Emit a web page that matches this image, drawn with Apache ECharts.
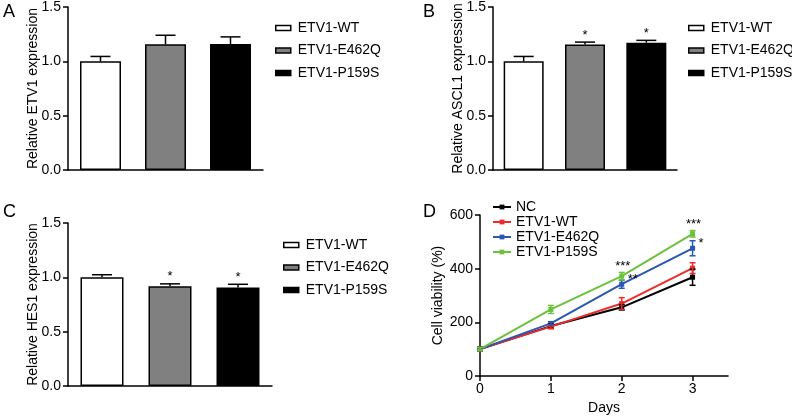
<!DOCTYPE html>
<html><head><meta charset="utf-8">
<script src="https://cdn.jsdelivr.net/npm/echarts@6/dist/echarts.min.js"></script>
<style>html,body{margin:0;padding:0;background:#fff}#c{width:792px;height:416px}</style>
</head><body><div id="c"></div>
<script>
// ---- data: bar panels ----
const groups = ['ETV1-WT', 'ETV1-E462Q', 'ETV1-P159S'];
const groupColors = ['#ffffff', '#808080', '#000000'];
const etv1Mean = [1.00, 1.157, 1.16];
const etv1Err = [0.045, 0.083, 0.065];
const etv1Sig = ['', '', ''];
const ascl1Mean = [1.00, 1.155, 1.172];
const ascl1Err = [0.045, 0.022, 0.021];
const ascl1Sig = ['', '*', '*'];
const hes1Mean = [1.00, 0.918, 0.906];
const hes1Err = [0.024, 0.022, 0.03];
const hes1Sig = ['', '*', '*'];

// ---- data: cell viability ----
const days = [0, 1, 2, 3];
const lineNames = ['NC', 'ETV1-WT', 'ETV1-E462Q', 'ETV1-P159S'];
const lineColors = ['#000000', '#ee2a2a', '#2a56b4', '#6cc23a'];
const ncVal = [100, 186, 256, 368];
const ncErr = [6, 8, 10, 30];
const wtVal = [100, 184, 270, 402];
const wtErr = [6, 8, 22, 20];
const e462qVal = [100, 196, 342, 476];
const e462qErr = [6, 6, 15, 28];
const p159sVal = [100, 248, 372, 530];
const p159sErr = [6, 15, 14, 12];
const e462qSig = ['', '', '**', '*'];
const p159sSig = ['', '', '***', '***'];

const FONT = "'Liberation Sans', Arial, Helvetica, sans-serif";
const chart = echarts.init(document.getElementById('c'), null, {renderer: 'canvas'});

const barPanels = [
  {key: 'A', mean: etv1Mean, err: etv1Err, sig: etv1Sig, yname: 'Relative ETV1 expression',
   grid: {left: 68, top: 5, width: 195, height: 165}, bw: 41,
   legend: {left: 275, top: 21}},
  {key: 'B', mean: ascl1Mean, err: ascl1Err, sig: ascl1Sig, yname: 'Relative ASCL1 expression',
   grid: {left: 493, top: 5, width: 184, height: 165}, bw: 40,
   legend: {left: 688, top: 21}},
  {key: 'C', mean: hes1Mean, err: hes1Err, sig: hes1Sig, yname: 'Relative HES1 expression',
   grid: {left: 68, top: 223, width: 204, height: 163}, bw: 43,
   legend: {left: 283, top: 238}}
];

const grids = [], xAxes = [], yAxes = [], series = [], legends = [];
const axisLineStyle = {color: '#000', width: 1.5};
const labelStyle = {color: '#000', fontSize: 14, fontFamily: FONT};

barPanels.forEach((p, pi) => {
  grids.push(p.grid);
  xAxes.push({type: 'value', gridIndex: pi, min: 0, max: 3,
    axisLine: {show: true, lineStyle: axisLineStyle, onZero: false},
    axisTick: {show: false}, axisLabel: {show: false}, splitLine: {show: false}});
  yAxes.push({type: 'value', gridIndex: pi, min: 0, max: 1.5, interval: 0.5,
    name: p.yname, nameLocation: 'middle', nameGap: 28, nameMoveOverlap: false,
    nameTextStyle: labelStyle,
    axisLine: {show: true, lineStyle: axisLineStyle},
    axisTick: {show: true, length: 5, lineStyle: axisLineStyle},
    axisLabel: Object.assign({margin: 7, formatter: v => v.toFixed(1)}, labelStyle),
    splitLine: {show: false}});
  groups.forEach((g, gi) => {
    series.push({type: 'bar', name: p.key + '|' + g, xAxisIndex: pi, yAxisIndex: pi,
      data: [[gi + 0.5, p.mean[gi]]], barWidth: p.bw, barGap: '-100%',
      itemStyle: {color: groupColors[gi], borderColor: '#000', borderWidth: 1.5},
      emphasis: {disabled: true}});
  });
  series.push({type: 'custom', name: p.key + '|err', xAxisIndex: pi, yAxisIndex: pi, z: 5,
    data: p.mean.map((m, i) => [i + 0.5, m, p.err[i]]),
    renderItem: (params, api) => {
      const x = api.value(0), m = api.value(1), e = api.value(2);
      const a = api.coord([x, m]), b = api.coord([x, m + e]);
      const st = {stroke: '#000', lineWidth: 1.5};
      const ch = [
        {type: 'line', shape: {x1: a[0], y1: a[1], x2: b[0], y2: b[1]}, style: st},
        {type: 'line', shape: {x1: b[0] - 10, y1: b[1], x2: b[0] + 10, y2: b[1]}, style: st}
      ];
      const s = p.sig[params.dataIndex];
      if (s) ch.push({type: 'text', x: b[0], y: b[1] - 7,
        style: {text: s, fill: '#000', fontSize: 13, fontFamily: FONT, align: 'center', verticalAlign: 'middle'}});
      return {type: 'group', children: ch};
    }});
  legends.push({orient: 'vertical', left: p.legend.left, top: p.legend.top, padding: 0,
    itemWidth: 15, itemHeight: 5, itemGap: 8.5, icon: 'rect', selectedMode: false,
    data: groups.map(g => p.key + '|' + g),
    formatter: n => n.split('|')[1],
    itemStyle: {borderColor: '#000', borderWidth: 1.5},
    textStyle: {color: '#000', fontSize: 14, fontFamily: FONT, lineHeight: 14, padding: [0, 0, 0, 2]}});
});

// ---- panel D ----
const di = 3;
grids.push({left: 480, top: 215, width: 248, height: 162});
xAxes.push({type: 'value', gridIndex: di, min: 0, max: 3.5, interval: 1,
  name: 'Days', nameLocation: 'middle', nameGap: 25, nameMoveOverlap: false, nameTextStyle: labelStyle,
  axisLine: {show: true, lineStyle: axisLineStyle, onZero: false},
  axisTick: {show: true, length: 5, lineStyle: axisLineStyle, customValues: days},
  axisLabel: Object.assign({margin: 6, customValues: days}, labelStyle),
  splitLine: {show: false}});
yAxes.push({type: 'value', gridIndex: di, min: 0, max: 600, interval: 200,
  name: 'Cell viability (%)', nameLocation: 'middle', nameGap: 35, nameMoveOverlap: false, nameTextStyle: labelStyle,
  axisLine: {show: true, lineStyle: axisLineStyle},
  axisTick: {show: true, length: 5, lineStyle: axisLineStyle},
  axisLabel: Object.assign({margin: 7}, labelStyle),
  splitLine: {show: false}});

const lineVals = [ncVal, wtVal, e462qVal, p159sVal];
const lineErrs = [ncErr, wtErr, e462qErr, p159sErr];
const lineSigs = [null, null, {s: e462qSig, pos: 'right'}, {s: p159sSig, pos: 'top'}];
lineNames.forEach((n, li) => {
  series.push({type: 'line', name: 'D|' + n, xAxisIndex: di, yAxisIndex: di,
    data: days.map((d, i) => [d, lineVals[li][i]]),
    symbol: 'rect', symbolSize: 5, z: 2 + li,
    lineStyle: {color: lineColors[li], width: 2},
    itemStyle: {color: lineColors[li]}, emphasis: {disabled: true}});
});
lineNames.forEach((n, li) => {
  series.push({type: 'custom', name: 'D|err' + li, xAxisIndex: di, yAxisIndex: di, z: 10,
    data: days.map((d, i) => [d, lineVals[li][i], lineErrs[li][i]]),
    renderItem: (params, api) => {
      const x = api.value(0), v = api.value(1), e = api.value(2);
      const t = api.coord([x, v + e]), b = api.coord([x, v - e]), c = api.coord([x, v]);
      const st = {stroke: lineColors[li], lineWidth: 1.5};
      const ch = [
        {type: 'line', shape: {x1: t[0], y1: t[1], x2: b[0], y2: b[1]}, style: st},
        {type: 'line', shape: {x1: t[0] - 3, y1: t[1], x2: t[0] + 3, y2: t[1]}, style: st},
        {type: 'line', shape: {x1: b[0] - 3, y1: b[1], x2: b[0] + 3, y2: b[1]}, style: st}
      ];
      const sg = lineSigs[li];
      if (sg && sg.s[params.dataIndex]) {
        const txt = sg.s[params.dataIndex];
        if (sg.pos === 'top') ch.push({type: 'text', x: t[0] + 1, y: t[1] - 6,
          style: {text: txt, fill: '#000', fontSize: 13, fontFamily: FONT, align: 'center', verticalAlign: 'middle'}});
        else ch.push({type: 'text', x: c[0] + 6, y: c[1] - 5,
          style: {text: txt, fill: '#000', fontSize: 13, fontFamily: FONT, align: 'left', verticalAlign: 'middle'}});
      }
      return {type: 'group', children: ch};
    }});
});
legends.push({orient: 'vertical', left: 492, top: 200, padding: 0,
  itemWidth: 18, itemHeight: 6, itemGap: 1, selectedMode: false,
  data: lineNames.map(n => 'D|' + n),
  formatter: n => n.split('|')[1],
  textStyle: {color: '#000', fontSize: 14, fontFamily: FONT, lineHeight: 14}});

const letters = [['A', 3, 3], ['B', 423, 3], ['C', 3, 203], ['D', 423, 203]];
chart.setOption({
  animation: false,
  backgroundColor: '#fff',
  textStyle: {fontFamily: FONT},
  grid: grids, xAxis: xAxes, yAxis: yAxes, series: series, legend: legends,
  graphic: letters.map(l => ({type: 'text', left: l[1], top: l[2],
    style: {text: l[0], fontSize: 18, fontFamily: FONT, fill: '#000'}}))
});
</script></body></html>
